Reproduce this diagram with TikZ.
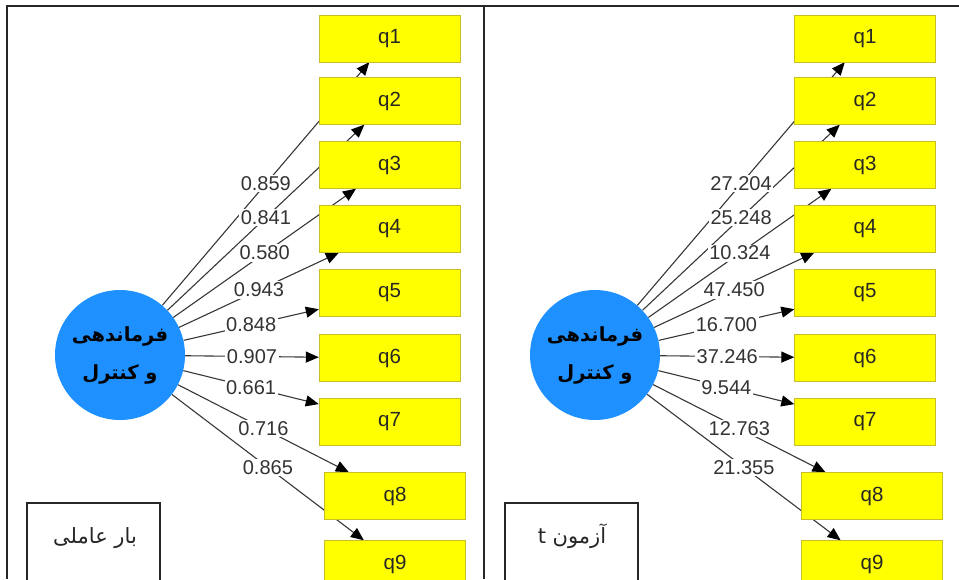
\documentclass[tikz,border=0pt]{standalone}
\usepackage{fontspec}
\setmainfont{Liberation Sans}
\newfontfamily\arabicfont[Script=Arabic]{DejaVu Sans}
\TeXXeTstate=1
\usetikzlibrary{arrows.meta}
\definecolor{boxyellow}{RGB}{255,255,0}
\definecolor{boxedge}{RGB}{200,190,40}
\definecolor{latentblue}{RGB}{30,144,255}
\definecolor{linegray}{RGB}{55,55,55}
\pgfdeclarelayer{edges}
\pgfdeclarelayer{labels}
\pgfsetlayers{edges,labels,main}

\begin{document}
\begin{tikzpicture}[x=1pt,y=-1pt,>={Triangle[length=13pt,width=11pt,color=black]},
  item/.style={rectangle,draw=boxedge,fill=boxyellow,minimum width=141pt,minimum height=47pt,font=\fontsize{20.5}{22}\selectfont,text=black!85},
  latent/.style={circle,fill=latentblue,minimum size=130pt,inner sep=0pt,align=center,font=\arabicfont\bfseries\fontsize{19.5}{38}\selectfont},
  coef/.style={fill=white,inner sep=1.5pt,font=\fontsize{20}{22}\selectfont,text=black!80},
  link/.style={->,draw=linegray,line width=1.1pt},
  frame/.style={draw=black!85,line width=1.4pt},
  legend/.style={font=\arabicfont\fontsize{21}{24}\selectfont,text=black!85}]
\clip (0,0) rectangle (959,579);
% panel frame
\draw[frame] (7,579) -- (7,6) -- (959,6);
\draw[frame] (484,6) -- (484,579);

% factor loadings
\node[latent] (ca) at (120,355) {\beginR فرماندهی\endR\\\beginR و کنترل\endR};
\node[item] (a1) at (389.5,38.5) {q1};
\node[item] (a2) at (389.5,101) {q2};
\node[item] (a3) at (389.5,165) {q3};
\node[item] (a4) at (389.5,229) {q4};
\node[item] (a5) at (389.5,293) {q5};
\node[item] (a6) at (389.5,358) {q6};
\node[item] (a7) at (389.5,421.5) {q7};
\node[item] (a8) at (395,496) {q8};
\node[item] (a9) at (395,564) {q9};
\draw[frame,line width=1.1pt] (27,503) rectangle (160,590);
\node[legend] (la) at (95,538) {\beginR بار عاملی\endR};

% t values
\node[latent] (cb) at (595,355) {\beginR فرماندهی\endR\\\beginR و کنترل\endR};
\node[item] (b1) at (865,38.5) {q1};
\node[item] (b2) at (865,101) {q2};
\node[item] (b3) at (865,165) {q3};
\node[item] (b4) at (865,229) {q4};
\node[item] (b5) at (865,293) {q5};
\node[item] (b6) at (865,358) {q6};
\node[item] (b7) at (865,421.5) {q7};
\node[item] (b8) at (872,496) {q8};
\node[item] (b9) at (872,564) {q9};
\draw[frame,line width=1.1pt] (505,503) rectangle (638,590);
\node[legend] (lb) at (572,536) {\beginR آزمون t\endR};

\begin{pgfonlayer}{edges}
\draw[link] (ca) -- coordinate (m1) (a1);
\draw[link] (ca) -- coordinate (m2) (a2);
\draw[link] (ca) -- coordinate (m3) (a3);
\draw[link] (ca) -- coordinate (m4) (a4);
\draw[link] (ca) -- coordinate (m5) (a5);
\draw[link] (ca) -- coordinate (m6) (a6);
\draw[link] (ca) -- coordinate (m7) (a7);
\draw[link] (ca) -- coordinate (m8) (a8);
\draw[link] (ca) -- coordinate (m9) (a9);
\draw[link] (cb) -- coordinate (t1) (b1);
\draw[link] (cb) -- coordinate (t2) (b2);
\draw[link] (cb) -- coordinate (t3) (b3);
\draw[link] (cb) -- coordinate (t4) (b4);
\draw[link] (cb) -- coordinate (t5) (b5);
\draw[link] (cb) -- coordinate (t6) (b6);
\draw[link] (cb) -- coordinate (t7) (b7);
\draw[link] (cb) -- coordinate (t8) (b8);
\draw[link] (cb) -- coordinate (t9) (b9);
\end{pgfonlayer}

\begin{pgfonlayer}{labels}
\node[coef] (wa1) at (m1) {0.859};
\node[coef] (wa2) at (m2) {0.841};
\node[coef] (wa3) at (m3) {0.580};
\node[coef] (wa4) at (m4) {0.943};
\node[coef] (wa5) at (m5) {0.848};
\node[coef] (wa6) at (m6) {0.907};
\node[coef] (wa7) at (m7) {0.661};
\node[coef] (wa8) at (m8) {0.716};
\node[coef] (wa9) at (m9) {0.865};
\node[coef] (wb1) at (t1) {27.204};
\node[coef] (wb2) at (t2) {25.248};
\node[coef] (wb3) at (t3) {10.324};
\node[coef] (wb4) at (t4) {47.450};
\node[coef] (wb5) at (t5) {16.700};
\node[coef] (wb6) at (t6) {37.246};
\node[coef] (wb7) at (t7) {9.544};
\node[coef] (wb8) at (t8) {12.763};
\node[coef] (wb9) at (t9) {21.355};
\end{pgfonlayer}
\end{tikzpicture}
\end{document}
